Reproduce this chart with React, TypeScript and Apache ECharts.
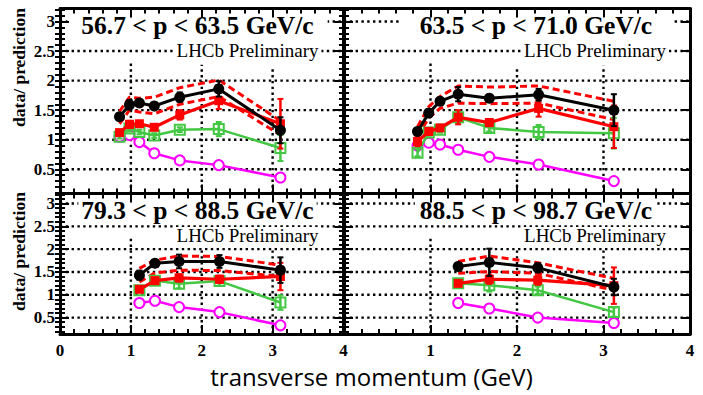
import React, { useEffect, useRef } from "react";
import * as echarts from "echarts";

// ---------- texts ----------
const panelTitles = [
  "56.7 < p < 63.5 GeV/c",
  "63.5 < p < 71.0 GeV/c",
  "79.3 < p < 88.5 GeV/c",
  "88.5 < p < 98.7 GeV/c",
];
const watermark = "LHCb Preliminary";
const yTitle = "data/ prediction";
const xTitle = "transverse momentum (GeV)";

// ---------- ticks ----------
const yMajorTicks = [0.5, 1, 1.5, 2, 2.5, 3];
const yMinorTicks = [
  0.1, 0.2, 0.3, 0.4, 0.5, 0.6, 0.7, 0.8, 0.9, 1.0, 1.1, 1.2, 1.3, 1.4, 1.5, 1.6,
  1.7, 1.8, 1.9, 2.0, 2.1, 2.2, 2.3, 2.4, 2.5, 2.6, 2.7, 2.8, 2.9, 3.0, 3.1, 3.2,
];

// ---------- panel 1 : 56.7 < p < 63.5 ----------
const p1X = [0.84, 0.98, 1.12, 1.33, 1.69, 2.24, 3.11];
const p1Black = [1.39, 1.59, 1.62, 1.57, 1.72, 1.86, 1.16];
const p1BlackErr = [0.05, 0.08, 0.04, 0.04, 0.08, 0.13, 0.22];
const p1Red = [1.12, 1.26, 1.27, 1.21, 1.42, 1.66, 1.27];
const p1RedErr = [0.04, 0.06, 0.04, 0.04, 0.08, 0.14, 0.42];
const p1Green = [1.05, 1.19, 1.13, 1.07, 1.17, 1.18, 0.86];
const p1GreenErr = [0.03, 0.05, 0.04, 0.04, 0.04, 0.12, 0.22];
const p1Magenta = [1.05, 1.08, 0.96, 0.77, 0.65, 0.57, 0.36];
const p1Upper = [1.48, 1.72, 1.7, 1.72, 1.88, 2.01, 1.32];
const p1Lower = [1.27, 1.5, 1.47, 1.44, 1.6, 1.73, 1.08];
const p1VLines = [[1, 2.3], [2, 2.27], [3, 2.2]];

// ---------- panel 2 : 63.5 < p < 71.0 ----------
const p2X = [0.85, 0.98, 1.11, 1.32, 1.68, 2.25, 3.12];
const p2Black = [1.14, 1.45, 1.65, 1.77, 1.7, 1.76, 1.5];
const p2BlackErr = [0.06, 0.06, 0.06, 0.12, 0.06, 0.1, 0.27];
const p2Red = [0.97, 1.14, 1.2, 1.38, 1.29, 1.53, 1.22];
const p2RedErr = [0.08, 0.06, 0.05, 0.12, 0.06, 0.14, 0.36];
const p2Green = [0.78, 1.12, 1.17, 1.38, 1.2, 1.13, 1.11];
const p2GreenErr = [0.06, 0.05, 0.05, 0.1, 0.06, 0.12, 0.26];
const p2Magenta = [0.9, 0.95, 0.92, 0.83, 0.71, 0.58, 0.3];
const p2Upper = [1.22, 1.56, 1.73, 1.91, 1.89, 1.91, 1.65];
const p2Lower = [1.05, 1.37, 1.53, 1.62, 1.61, 1.62, 1.34];
const p2VLines = [[1, 2.35], [2, 2.2], [3, 2.25]];

// ---------- panel 3 : 79.3 < p < 88.5 ----------
const p3X = [1.12, 1.34, 1.68, 2.25, 3.11];
const p3Black = [1.43, 1.69, 1.73, 1.73, 1.54];
const p3BlackErr = [0.1, 0.06, 0.15, 0.14, 0.28];
const p3Red = [1.12, 1.31, 1.37, 1.34, 1.4];
const p3RedErr = [0.06, 0.05, 0.08, 0.08, 0.3];
const p3Green = [1.1, 1.31, 1.24, 1.3, 0.83];
const p3GreenErr = [0.04, 0.05, 0.1, 0.1, 0.16];
const p3Magenta = [0.82, 0.87, 0.73, 0.62, 0.33];
const p3Upper = [1.58, 1.76, 1.85, 1.84, 1.65];
const p3Lower = [1.28, 1.48, 1.54, 1.53, 1.4];
const p3VLines = [[1, 2.28], [2, 2.0], [3, 2.03]];

// ---------- panel 4 : 88.5 < p < 98.7 ----------
const p4X = [1.32, 1.68, 2.24, 3.12];
const p4Black = [1.62, 1.71, 1.59, 1.17];
const p4BlackErr = [0.08, 0.3, 0.1, 0.18];
const p4Red = [1.25, 1.34, 1.32, 1.2];
const p4RedErr = [0.05, 0.1, 0.1, 0.4];
const p4Green = [1.25, 1.21, 1.1, 0.62];
const p4GreenErr = [0.04, 0.14, 0.08, 0.1];
const p4Magenta = [0.82, 0.7, 0.5, 0.38];
const p4Upper = [1.73, 1.85, 1.7, 1.36];
const p4Lower = [1.47, 1.51, 1.47, 1.1];
const p4VLines = [[1, 2.28], [2, 1.98], [3, 2.03]];

const panels = [
  { x: p1X, black: p1Black, blackErr: p1BlackErr, red: p1Red, redErr: p1RedErr, green: p1Green, greenErr: p1GreenErr, magenta: p1Magenta, upper: p1Upper, lower: p1Lower, vlines: p1VLines },
  { x: p2X, black: p2Black, blackErr: p2BlackErr, red: p2Red, redErr: p2RedErr, green: p2Green, greenErr: p2GreenErr, magenta: p2Magenta, upper: p2Upper, lower: p2Lower, vlines: p2VLines },
  { x: p3X, black: p3Black, blackErr: p3BlackErr, red: p3Red, redErr: p3RedErr, green: p3Green, greenErr: p3GreenErr, magenta: p3Magenta, upper: p3Upper, lower: p3Lower, vlines: p3VLines },
  { x: p4X, black: p4Black, blackErr: p4BlackErr, red: p4Red, redErr: p4RedErr, green: p4Green, greenErr: p4GreenErr, magenta: p4Magenta, upper: p4Upper, lower: p4Lower, vlines: p4VLines },
];

// ---------- layout / style ----------
const FRAMES = [
  { left: 60, top: 8.5, width: 283.5, height: 185, yMin: 0.09, yMax: 3.22 },
  { left: 344, top: 8.5, width: 346, height: 185, yMin: 0.09, yMax: 3.22 },
  { left: 60, top: 193.5, width: 283.5, height: 140.5, yMin: 0.14, yMax: 3.22 },
  { left: 344, top: 193.5, width: 346, height: 140.5, yMin: 0.14, yMax: 3.22 },
];
const TITLE_POS = [
  { x: 197.5, y: 25.3, pad: 14 },
  { x: 536, y: 25.3, pad: 20 },
  { x: 197.5, y: 210.3, pad: 3 },
  { x: 536, y: 210.3, pad: 5 },
];
const MARK_POS = [
  { x: 247.5, y: 50 },
  { x: 595, y: 50 },
  { x: 247.5, y: 235.5 },
  { x: 595, y: 235.5 },
];
const SERIF = '"Liberation Serif", "Times New Roman", serif';
const BLACK = "#000000";
const RED = "#ff0000";
const GREEN = "#44c844";
const MAGENTA = "#ff00ff";

function errSeries(gi: number, xs: number[], ys: number[], es: number[], color: string, z: number) {
  return {
    type: "custom",
    xAxisIndex: 2 * gi,
    yAxisIndex: 4 * gi,
    z,
    silent: true,
    clip: false,
    data: xs.map((x, i) => [x, ys[i] - es[i], ys[i] + es[i]]),
    encode: { x: 0, y: [1, 2] },
    renderItem: (_p: any, api: any) => {
      const a = api.coord([api.value(0), api.value(1)]);
      const b = api.coord([api.value(0), api.value(2)]);
      const w = 3;
      return {
        type: "group",
        children: [
          { type: "line", shape: { x1: a[0], y1: a[1], x2: b[0], y2: b[1] }, style: { stroke: color, lineWidth: 2.5 } },
          { type: "line", shape: { x1: a[0] - w, y1: a[1], x2: a[0] + w, y2: a[1] }, style: { stroke: color, lineWidth: 2 } },
          { type: "line", shape: { x1: b[0] - w, y1: b[1], x2: b[0] + w, y2: b[1] }, style: { stroke: color, lineWidth: 2 } },
        ],
      };
    },
  };
}

function buildOption() {
  const grid: any[] = [];
  const xAxis: any[] = [];
  const yAxis: any[] = [];
  const series: any[] = [];
  const graphic: any[] = [];
  const lineStyle = { color: BLACK, width: 3 };
  const tickStyle = { color: BLACK, width: 2 };

  FRAMES.forEach((f, gi) => {
    const isBottom = gi >= 2;
    const isLeft = gi % 2 === 0;
    grid.push({ left: f.left, top: f.top, width: f.width, height: f.height, containLabel: false, outerBoundsMode: "none" });

    const xBase = {
      type: "value",
      gridIndex: gi,
      min: 0,
      max: 4,
      interval: 1,
      z: 20,
      axisLine: { show: true, onZero: false, lineStyle },
      axisTick: { show: true, inside: true, length: 9, lineStyle: tickStyle },
      minorTick: { show: true, splitNumber: 5, length: 5, lineStyle: tickStyle },
      splitLine: { show: false },
      minorSplitLine: { show: false },
    };
    xAxis.push({
      ...xBase,
      position: "bottom",
      axisLabel: isBottom
        ? {
            show: true,
            margin: 8,
            color: BLACK,
            fontFamily: SERIF,
            fontWeight: "bold",
            fontSize: 17,
            showMinLabel: true,
            showMaxLabel: true,
            formatter: (v: number) => (!isLeft && v === 0 ? "" : String(v)),
          }
        : { show: false },
    });
    xAxis.push({ ...xBase, position: "top", axisLabel: { show: false } });

    const yBase = {
      type: "value",
      gridIndex: gi,
      min: f.yMin,
      max: f.yMax,
      z: 20,
      splitLine: { show: false },
      minorTick: { show: false },
    };
    const minorVals = yMinorTicks.filter((v) => v > f.yMin && v < f.yMax);
    (["left", "right"] as const).forEach((pos) => {
      yAxis.push({
        ...yBase,
        position: pos,
        axisLine: { show: true, onZero: false, lineStyle },
        axisTick: { show: true, inside: true, length: 9, customValues: yMajorTicks, lineStyle: tickStyle },
        axisLabel:
          pos === "left" && isLeft
            ? {
                show: true,
                customValues: yMajorTicks,
                margin: 5,
                color: BLACK,
                fontFamily: SERIF,
                fontWeight: "bold",
                fontSize: 17,
              }
            : { show: false },
      });
      yAxis.push({
        ...yBase,
        position: pos,
        axisLine: { show: false },
        axisTick: { show: true, inside: true, length: 5, customValues: minorVals, lineStyle: tickStyle },
        axisLabel: { show: false },
      });
    });

    const p = panels[gi];
    // horizontal dotted grid lines
    series.push({
      type: "custom",
      xAxisIndex: 2 * gi,
      yAxisIndex: 4 * gi,
      z: 1,
      silent: true,
      data: yMajorTicks.map((v) => [0, v]),
      renderItem: (_p: any, api: any) => {
        const a = api.coord([0, api.value(1)]);
        const b = api.coord([4, api.value(1)]);
        return { type: "line", shape: { x1: a[0], y1: a[1], x2: b[0], y2: b[1] }, style: { stroke: BLACK, lineWidth: 2.4, lineDash: [2.4, 3.4] } };
      },
    });
    // vertical dotted segments
    series.push({
      type: "custom",
      xAxisIndex: 2 * gi,
      yAxisIndex: 4 * gi,
      z: 1,
      silent: true,
      data: p.vlines,
      renderItem: (_p: any, api: any) => {
        const a = api.coord([api.value(0), f.yMin]);
        const b = api.coord([api.value(0), api.value(1)]);
        return { type: "line", shape: { x1: a[0], y1: a[1], x2: b[0], y2: b[1] }, style: { stroke: BLACK, lineWidth: 2.4, lineDash: [2.4, 3.4] } };
      },
    });

    const pts = (ys: number[]) => p.x.map((x, i) => [x, ys[i]]);
    const common = { xAxisIndex: 2 * gi, yAxisIndex: 4 * gi, type: "line", silent: true, clip: false, showSymbol: true };

    series.push({ ...common, z: 2, data: pts(p.upper), symbol: "none", lineStyle: { color: RED, width: 3, type: [7, 4] } });
    series.push({ ...common, z: 2, data: pts(p.lower), symbol: "none", lineStyle: { color: RED, width: 3, type: [7, 4] } });

    series.push({
      ...common,
      z: 3,
      data: pts(p.magenta),
      symbol: "emptyCircle",
      symbolSize: 10,
      lineStyle: { color: MAGENTA, width: 2.5 },
      itemStyle: { color: MAGENTA, borderColor: MAGENTA, borderWidth: 2 },
    });

    series.push(errSeries(gi, p.x, p.green, p.greenErr, GREEN, 4));
    series.push({
      ...common,
      z: 4,
      data: pts(p.green),
      symbol: "rect",
      symbolSize: 10,
      lineStyle: { color: GREEN, width: 2.5 },
      itemStyle: { color: "rgba(255,255,255,0)", borderColor: GREEN, borderWidth: 2 },
    });

    series.push(errSeries(gi, p.x, p.red, p.redErr, RED, 5));
    series.push({
      ...common,
      z: 5,
      data: pts(p.red),
      symbol: "rect",
      symbolSize: 9,
      lineStyle: { color: RED, width: 3.2 },
      itemStyle: { color: RED },
    });

    series.push(errSeries(gi, p.x, p.black, p.blackErr, BLACK, 6));
    series.push({
      ...common,
      z: 6,
      data: pts(p.black),
      symbol: "circle",
      symbolSize: 11,
      lineStyle: { color: BLACK, width: 3 },
      itemStyle: { color: BLACK },
    });

    // panel texts
    const t = TITLE_POS[gi];
    graphic.push({
      type: "text",
      x: t.x,
      y: t.y,
      z: 10,
      silent: true,
      style: {
        text: panelTitles[gi],
        fill: BLACK,
        font: `bold 25.5px ${SERIF}`,
        lineHeight: 22,
        align: "center",
        verticalAlign: "middle",
        backgroundColor: "#ffffff",
        padding: [0, t.pad],
      },
    });
    const m = MARK_POS[gi];
    graphic.push({
      type: "text",
      x: m.x,
      y: m.y,
      z: 10,
      silent: true,
      style: {
        text: watermark,
        fill: BLACK,
        font: `19px ${SERIF}`,
        lineHeight: 17,
        align: "center",
        verticalAlign: "middle",
        backgroundColor: "#ffffff",
        padding: [0, 3],
      },
    });
  });

  // y titles
  [67.5, 251.5].forEach((cy) => {
    graphic.push({
      type: "text",
      x: 19,
      y: cy,
      rotation: Math.PI / 2,
      z: 10,
      silent: true,
      style: { text: yTitle, fill: BLACK, font: `bold 17.5px ${SERIF}`, align: "center", verticalAlign: "middle" },
    });
  });
  // x title
  graphic.push({
    type: "text",
    x: 371.5,
    y: 376,
    z: 10,
    silent: true,
    style: { text: xTitle, fill: BLACK, font: `24px "Open Sans", "Noto Sans", sans-serif`, align: "center", verticalAlign: "middle" },
  });

  return {
    animation: false,
    backgroundColor: "#ffffff",
    grid,
    xAxis,
    yAxis,
    series,
    graphic,
  };
}

export default function App() {
  const ref = useRef<HTMLDivElement>(null);
  useEffect(() => {
    if (!ref.current) return;
    const chart = echarts.init(ref.current, undefined, { renderer: "svg" });
    chart.setOption(buildOption() as any);
    return () => chart.dispose();
  }, []);
  return (
    <div
      ref={ref}
      style={{ position: "fixed", left: 0, top: 0, width: 703, height: 395, background: "#fff" }}
    />
  );
}
